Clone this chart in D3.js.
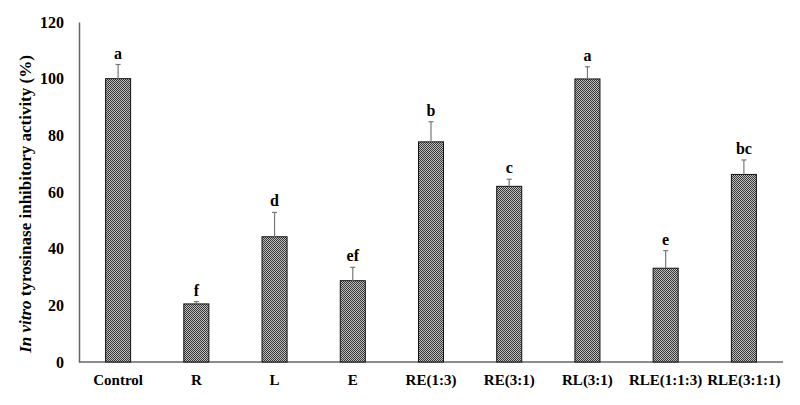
<!DOCTYPE html>
<html><head><meta charset="utf-8">
<script src="https://cdn.jsdelivr.net/npm/d3@7"></script>
<style>body{margin:0;background:#fff}svg{display:block}</style>
</head><body>
<script>
const categories = ["Control","R","L","E","RE(1:3)","RE(3:1)","RL(3:1)","RLE(1:1:3)","RLE(3:1:1)"];
const values = [100, 20.5, 44.2, 28.7, 77.7, 62.0, 99.9, 33.1, 66.2];
const errors = [5.0, 0.8, 8.6, 4.7, 7.1, 2.5, 4.3, 6.2, 5.1];
const letters = ["a","f","d","ef","b","c","a","e","bc"];
const yTicks = [0,20,40,60,80,100,120];

const W=800,H=405;
const svg=d3.select("body").append("svg").attr("width",W).attr("height",H);
const defs=svg.append("defs");
const pat=defs.append("pattern").attr("id","hatch").attr("patternUnits","userSpaceOnUse").attr("width",2).attr("height",2);
pat.append("rect").attr("width",2).attr("height",2).attr("fill","#bdbdbd");
pat.append("rect").attr("width",1).attr("height",1).attr("fill","#383838");
pat.append("rect").attr("x",1).attr("y",1).attr("width",1).attr("height",1).attr("fill","#383838");

const x=d3.scaleBand().domain(categories).range([79,783]).paddingInner(0.68).paddingOuter(0.34);
const y=d3.scaleLinear().domain([0,120]).range([362,22]);
const font="'Liberation Serif','Times New Roman',serif";

// y axis
const ya=svg.append("g").attr("transform","translate(79,0)").call(d3.axisLeft(y).tickValues(yTicks).tickSize(0).tickPadding(15));
ya.select(".domain").attr("stroke","#666").attr("stroke-width",1.5);
ya.selectAll("text").attr("font-family",font).attr("font-weight","bold").attr("font-size",16).attr("fill","#000");
// x axis
const xa=svg.append("g").attr("transform","translate(0,362)").call(d3.axisBottom(x).tickSize(0).tickPadding(12));
xa.select(".domain").attr("stroke","#666").attr("stroke-width",1.5).attr("d","M79,0H783");
xa.selectAll("text").attr("font-family",font).attr("font-weight","bold").attr("font-size",15).attr("fill","#000");

const data=categories.map((c,i)=>({c,v:values[i],e:errors[i],l:letters[i]}));
svg.selectAll("rect.bar").data(data).join("rect").attr("class","bar")
 .attr("x",d=>x(d.c)).attr("width",x.bandwidth())
 .attr("y",d=>y(d.v)).attr("height",d=>y(0)-y(d.v))
 .attr("fill","url(#hatch)").attr("stroke","#111").attr("stroke-width",1);
const eg=svg.selectAll("g.err").data(data).join("g").attr("class","err");
eg.append("line").attr("x1",d=>x(d.c)+x.bandwidth()/2).attr("x2",d=>x(d.c)+x.bandwidth()/2)
 .attr("y1",d=>y(d.v)).attr("y2",d=>y(d.v+d.e)).attr("stroke","#777").attr("stroke-width",1.2);
eg.append("line").attr("x1",d=>x(d.c)+x.bandwidth()/2-2.5).attr("x2",d=>x(d.c)+x.bandwidth()/2+2.5)
 .attr("y1",d=>y(d.v+d.e)).attr("y2",d=>y(d.v+d.e)).attr("stroke","#777").attr("stroke-width",1.2);
svg.selectAll("text.lt").data(data).join("text").attr("class","lt")
 .attr("x",d=>x(d.c)+x.bandwidth()/2).attr("y",d=>y(d.v+d.e)-6)
 .attr("text-anchor","middle").attr("font-family",font).attr("font-weight","bold").attr("font-size",16).text(d=>d.l);

const t=svg.append("text").attr("transform","translate(31,204) rotate(-90)").attr("text-anchor","middle")
 .attr("font-family",font).attr("font-weight","bold").attr("font-size",17);
t.append("tspan").attr("font-style","italic").text("In vitro");
t.append("tspan").text(" tyrosinase inhibitory activity (%)");
</script>
</body></html>
